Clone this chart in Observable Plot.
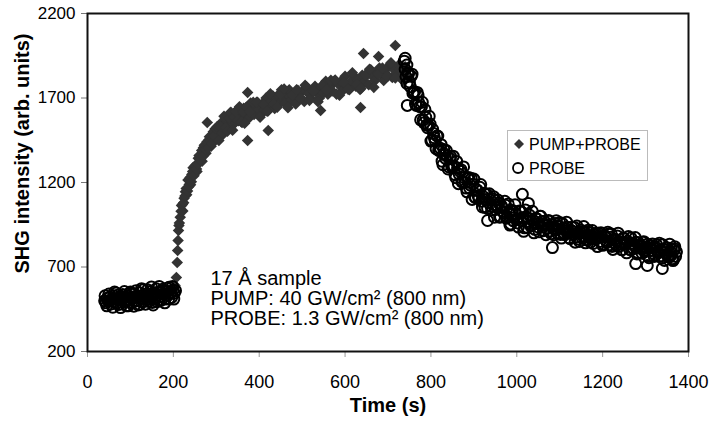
<!DOCTYPE html>
<html><head><meta charset="utf-8">
<script src="https://cdn.jsdelivr.net/npm/d3@7"></script>
<script src="https://cdn.jsdelivr.net/npm/@observablehq/plot@0.6"></script>
<style>
body{margin:0;background:#fff}
#wrap{position:relative;width:712px;height:426px;font-family:"Liberation Sans",Arial,Helvetica,sans-serif}
#legend{position:absolute;left:507px;top:130px;width:139px;height:49px;border:1px solid #bbb;background:#fff}
#legend svg{position:absolute;left:0;top:0}
</style></head><body>
<div id="wrap"></div>
<script>
// ---- data (time s, SHG intensity arb. units) ----
const xTicks = [0, 200, 400, 600, 800, 1000, 1200, 1400];
const yTicks = [200, 700, 1200, 1700, 2200];
const seriesNames = ["PUMP+PROBE", "PROBE"];
const xLabel = "Time (s)";
const yLabel = "SHG intensity (arb. units)";
const annotationLines = ["17 Å sample", "PUMP: 40 GW/cm² (800 nm)", "PROBE: 1.3 GW/cm² (800 nm)"];

const pumpBaseline = [[42,505],[47,498],[51,512],[56,520],[60,507],[65,515],[69,526],[74,502],[78,518],[83,531],[87,510],[92,524],[96,537],[101,515],[105,529],[110,519],[114,541],[119,526],[123,533],[128,545],[132,522],[137,538],[141,549],[146,530],[150,543],[155,536],[159,555],[164,540],[168,548],[173,561],[177,544],[182,553],[186,566],[191,548],[195,558],[200,572],[204,590],[207,638],[209,727],[210,798],[211,857],[212,916],[213,945],[214,960]];

const pumpRise = [[216,994],[219,1064],[222,1032],[225,1107],[228,1145],[231,1127],[234,1215],[237,1188],[240,1187],[243,1248],[246,1288],[249,1254],[252,1296],[255,1265],[258,1344],[261,1322],[264,1361],[267,1326],[270,1406],[273,1382],[276,1373],[279,1416],[279,1555],[282,1450],[285,1428],[288,1415],[291,1481],[294,1453],[297,1516],[300,1459],
[304,1508],[308,1491],[312,1555],[316,1485],[320,1545],[324,1569],[328,1522],[332,1611],[336,1560],[340,1543],[344,1598],[348,1627],[352,1566],[356,1601],[360,1555],[364,1639],[368,1598],[372,1637],[373,1733],[373,1449],[376,1581],[380,1670],[384,1628],[388,1603],[392,1646],[396,1675],[400,1632],[404,1601],[408,1668],[412,1631],[416,1700],[420,1622],[421,1508],[424,1670],[428,1649],[432,1711],[436,1638],[440,1700],[444,1718],[448,1666],[452,1749],[456,1692],[460,1670],[465,1722],[470,1749],[475,1686],[480,1717],[485,1664],[490,1745],[495,1702],[500,1738],[505,1680],[510,1767],[515,1725],[520,1699],[525,1741],[530,1770],[535,1729],[540,1699],[543,1626],[545,1766],[550,1730],[555,1799],[560,1722],[565,1766],[570,1742],[575,1800],[580,1723],[585,1780],[590,1798],[595,1745],[600,1828],[605,1770],[610,1749],[615,1802],[620,1831],[625,1769],[630,1803],[635,1751],[636,1644],[640,1835],[643,1963],[645,1794],[650,1834],[655,1778],[660,1867],[665,1826],[670,1803],[675,1847],[678,1945],[680,1877],[685,1834],[690,1803],[695,1869],[700,1832],[705,1900],[710,1822],[715,1865],[717,2011],[720,1840],[725,1895],[730,1815],[735,1870],[740,1885],[745,1830]];

const pumpRiseExtra = [[218,1030],[221,1070],[224,1080],[227,1120],[230,1165],[233,1150],[236,1175],[239,1230],[242,1205],[245,1265],[248,1240],[251,1300],[254,1280],[257,1310],[260,1360],[263,1335],[266,1390],[269,1355],[272,1420],[275,1395],[278,1440],[281,1405],[284,1470],[287,1445],[290,1430],[293,1500],[296,1475],[299,1520],
[302,1530],[306,1448],[310,1528],[314,1494],[318,1592],[322,1524],[326,1503],[330,1581],[334,1615],[338,1509],[342,1586],[346,1620],[350,1569],[354,1648],[358,1560],[362,1617],[366,1551],[370,1645],[378,1618],[386,1674],[394,1675],[402,1586],[410,1662],[418,1623],[426,1725],[434,1664],[442,1646],[450,1722],[458,1753],[467,1643],[477,1716],[487,1749],[497,1697],[507,1776],[517,1686],[527,1740],[537,1678],[547,1776],[557,1748],[567,1805],[577,1806],[587,1716],[597,1791],[607,1752],[617,1849],[627,1781],[637,1757],[647,1836],[657,1870],[667,1763],[677,1841],[687,1878],[697,1828],[707,1908],[717,1818],[727,1870],[737,1800]];

const probeBaseline = [[40,500],[43,488],[46,515],[49,497],[52,522],[55,481],[58,509],[61,530],[64,493],[67,546],[70,512],[73,478],[76,525],[79,503],[82,538],[85,495],[88,520],[91,470],[94,531],[97,508],[100,552],[103,489],[106,519],[109,540],[112,501],[115,527],[118,475],[121,548],[124,514],[127,532],[130,566],[133,497],[136,523],[139,541],[142,509],[145,555],[148,528],[151,490],[154,546],[157,519],[160,571],[163,535],[166,503],[169,549],[172,525],[175,568],[178,540],[181,511],[184,557],[187,532],[190,580],[193,548],[196,520],[199,562],[202,545],
[41,530],[45,470],[50,540],[54,505],[59,462],[63,552],[68,485],[72,535],[77,460],[81,520],[86,555],[90,492],[95,470],[99,545],[104,512],[108,468],[113,560],[117,500],[122,478],[126,572],[131,515],[135,480],[140,565],[144,498],[149,582],[153,475],[158,540],[162,495],[167,585],[171,502],[176,560],[180,488],[185,575],[189,510],[194,545],[198,585],[201,510],[205,560]];

const probeDecay = [[738,1918],[740,1870],[742,1826],[744,1895],[745,1656],[746,1848],[750,1795],[754,1829],[758,1728],[762,1737],[766,1656],[770,1715],[774,1649],[778,1648],[782,1569],[786,1632],[790,1540],[794,1538],[798,1546],[802,1450],[806,1490],[810,1445],[814,1475],[818,1390],[822,1402],[826,1326],[830,1395],[834,1343],[838,1355],[842,1292],[846,1354],[850,1288],[854,1296],[858,1228],[862,1286],[866,1249],[870,1276],[874,1206],[878,1228],[882,1167],[886,1223],[890,1167],[894,1223],[898,1190],[902,1115],[906,1155],[910,1120],[914,1172],[918,1089],[922,1116],[926,1053],[930,1130],[932,975],[934,1082],[938,1099],[942,1037],[946,1116],[950,1040],[954,1054],[958,1078],[962,997],[966,1051],[970,1020],[974,1065],[978,995],[982,1020],[986,955],[990,1035],[994,993],[998,1015],[1002,961],[1006,1032],[1010,974],[1013,1130],[1014,991],[1018,932],[1022,998],[1026,970],[1027,1076],[1030,1006],[1034,945],[1038,976],[1042,923],[1046,986],[1050,937],[1054,1000],[1058,969],[1062,915],[1066,952],[1070,929],[1074,975],[1078,912],[1082,938],[1083,815],[1086,891],[1090,957],[1094,922],[1098,939],[1102,893],[1106,958],[1110,900],[1114,914],[1118,935],[1122,873],[1126,918],[1130,896],[1134,934],[1138,879],[1142,901],[1146,851],[1150,917],[1154,885],[1158,903],[1162,861],[1166,918],[1170,872],[1174,886],[1178,839],[1182,893],[1186,871],[1190,900],[1194,851],[1198,877],[1202,835],[1206,884],[1210,846],[1214,896],[1218,876],[1222,822],[1226,860],[1230,838],[1234,884],[1238,822],[1242,848],[1246,802],[1250,868],[1254,834],[1258,852],[1262,806],[1266,872],[1270,813],[1274,826],[1277,720],[1278,847],[1282,785],[1286,830],[1290,808],[1294,846],[1298,791],[1302,813],[1304,709],[1306,763],[1310,829],[1314,797],[1318,815],[1322,773],[1326,831],[1330,785],[1334,799],[1338,753],[1339,691],[1342,807],[1346,785],[1350,814],[1354,765],[1356,760],[1358,791],[1360,805],[1362,749],[1365,745],[1366,800],[1368,820],[1370,763],[1372,790]];

const probeDecayExtra = [[740,1935],[744,1787],[748,1844],[752,1767],[756,1841],[760,1735],[764,1664],[768,1733],[772,1672],[776,1571],[780,1675],[784,1553],[788,1586],[792,1524],[796,1592],[800,1445],[804,1515],[808,1465],[812,1400],[816,1475],[820,1390],[824,1424],[828,1305],[832,1368],[836,1389],[840,1280],[844,1343],[848,1301],[852,1356],[856,1247],[860,1325],[864,1193],[868,1266],[872,1204],[876,1292],[880,1200],[884,1145],[888,1230],[892,1185],[896,1100],[900,1220],[904,1110],[908,1155],[912,1106],[916,1188],[920,1055],[924,1137],[928,1099],[932,1046],[936,1133],[940,1060],[944,1104],[948,995],[952,1067],[956,1096],[960,995],[964,1064],[968,1028],[972,1089],[976,988],[980,1073],[984,948],[988,1028],[992,973],[996,1069],[1000,985],[1004,936],[1008,1028],[1012,990],[1016,911],[1020,1038],[1024,935],[1028,987],[1032,943],[1036,1030],[1040,902],[1044,989],[1048,956],[1052,908],[1056,1000],[1060,937],[1064,971],[1068,891],[1072,948],[1076,971],[1080,897],[1084,951],[1088,926],[1092,974],[1096,898],[1100,963],[1104,871],[1108,932],[1112,892],[1116,965],[1120,902],[1124,867],[1128,935],[1132,907],[1136,847],[1140,943],[1144,866],[1148,905],[1152,873],[1156,939],[1160,843],[1164,909],[1168,883],[1172,847],[1176,916],[1180,865],[1184,900],[1188,821],[1192,878],[1196,902],[1200,828],[1204,883],[1208,857],[1212,906],[1216,831],[1220,896],[1224,804],[1228,866],[1232,826],[1236,900],[1240,837],[1244,802],[1248,871],[1252,843],[1256,784],[1260,880],[1264,802],[1268,841],[1272,808],[1276,874],[1280,777],[1284,843],[1288,817],[1292,781],[1296,850],[1300,799],[1304,834],[1308,755],[1312,812],[1316,836],[1320,762],[1324,817],[1328,792],[1332,841],[1336,766],[1340,831],[1344,739],[1348,801],[1352,761],[1356,835],[1360,772],[1364,738],[1368,808]];

const toRows = (pairs, series) => pairs.map(([time, intensity]) => ({time, intensity, series}));
const pumpData = [pumpBaseline, pumpRise, pumpRiseExtra].flatMap(p => toRows(p, seriesNames[0]));
const probeData = [probeBaseline, probeDecay, probeDecayExtra].flatMap(p => toRows(p, seriesNames[1]));

const FONT = '"Liberation Sans", Arial, Helvetica, sans-serif';

const chart = Plot.plot({
  width: 712, height: 426,
  marginLeft: 87, marginRight: 24, marginTop: 13, marginBottom: 75,
  style: {fontFamily: FONT, background: "#fff", color: "#000", overflow: "visible"},
  x: {domain: [0, 1400]},
  y: {domain: [200, 2200]},
  marks: [
    Plot.axisX({ticks: xTicks, tickFormat: d => String(d), tickSize: 6, tickPadding: 18, fontSize: 18, label: null, stroke: "#999", fill: "#000"}),
    Plot.axisY({ticks: yTicks, tickFormat: d => String(d), tickSize: 6, tickPadding: 6, fontSize: 17, label: null, stroke: "#777", fill: "#000"}),
    Plot.dot(pumpData, {x: "time", y: "intensity", symbol: "diamond2", r: 5.2, fill: "#333", stroke: "none"}),
    Plot.dot(probeData, {x: "time", y: "intensity", symbol: "circle", r: 5.5, fill: "none", stroke: "#000", strokeWidth: 2}),
    Plot.frame({stroke: "#111", strokeWidth: 2}),
    Plot.text([annotationLines.join("\n")], {text: d => d, frameAnchor: "top-left", dx: 123, dy: 257, lineAnchor: "top", textAnchor: "start", fontSize: 20, lineHeight: 1, fill: "#000"}),
    Plot.text([yLabel], {text: d => d, frameAnchor: "left", textAnchor: "middle", dx: -65, dy: -29, rotate: -90, fontSize: 20, fontWeight: "bold", fill: "#000"}),
    Plot.text([xLabel], {text: d => d, frameAnchor: "bottom", textAnchor: "middle", dy: 60, fontSize: 20, fontWeight: "bold", fill: "#000"})
  ]
});

const wrap = document.getElementById("wrap");
wrap.appendChild(chart);

// legend box inside the plot area
const legend = document.createElement("div");
legend.id = "legend";
const ns = "http://www.w3.org/2000/svg";
const lsvg = document.createElementNS(ns, "svg");
lsvg.setAttribute("width", 139); lsvg.setAttribute("height", 49);
const diamond = document.createElementNS(ns, "path");
diamond.setAttribute("d", d3.symbol(d3.symbolDiamond2, 4.5 * 4.5 * Math.PI)());
diamond.setAttribute("transform", "translate(11,13)");
diamond.setAttribute("fill", "#333");
lsvg.appendChild(diamond);
const circ = document.createElementNS(ns, "circle");
circ.setAttribute("cx", 10); circ.setAttribute("cy", 37); circ.setAttribute("r", 5);
circ.setAttribute("fill", "none"); circ.setAttribute("stroke", "#000"); circ.setAttribute("stroke-width", 1.8);
lsvg.appendChild(circ);
seriesNames.forEach((name, i) => {
  const t = document.createElementNS(ns, "text");
  t.setAttribute("x", 21); t.setAttribute("y", i === 0 ? 19 : 43);
  t.setAttribute("font-size", 16); t.setAttribute("font-family", FONT); t.setAttribute("fill", "#000");
  t.textContent = name;
  lsvg.appendChild(t);
});
legend.appendChild(lsvg);
wrap.appendChild(legend);
</script>
</body></html>
